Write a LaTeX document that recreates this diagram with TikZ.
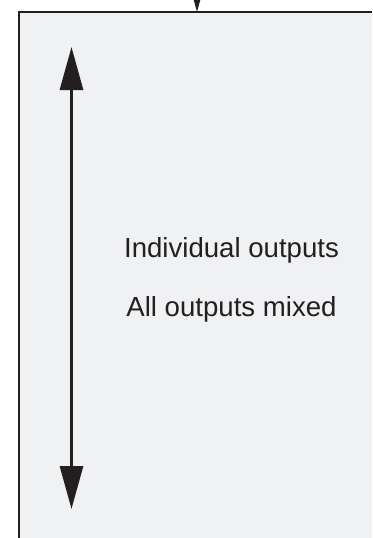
\documentclass[tikz,border=0pt]{standalone}
\usepackage{fontspec}
\setmainfont{Liberation Sans}
\usetikzlibrary{arrows.meta}
\definecolor{panelgray}{RGB}{240,241,243}
\definecolor{inkblack}{RGB}{35,31,32}
\tikzset{
  bigtip/.style={-{Triangle[length=21.5pt,width=11.5pt]}},
  bothtips/.style={{Triangle[length=21.5pt,width=11.5pt]}-{Triangle[length=21.5pt,width=11.5pt]}},
  panel text/.style={font=\fontsize{13.8}{16}\selectfont, text=inkblack, anchor=base, inner sep=0pt},
}
\begin{document}
\begin{tikzpicture}[x=0.5pt,y=0.5pt]
      \useasboundingbox (0,0) rectangle (372,538);
      \clip (0,0) rectangle (372,538);

      \coordinate (P1) at (19,-20);
      \coordinate (P2) at (400,526);
      \filldraw[fill=panelgray, draw=inkblack, line width=0.9pt] (P1) rectangle (P2);

      \coordinate (In) at (197,580);
      \coordinate (InTip) at (197,526);
      \draw[inkblack, line width=1.5pt, bigtip] (In) -- (InTip);

      \coordinate (Top) at (71.5,491);
      \coordinate (Bottom) at (71.5,29);
      \draw[inkblack, line width=1.5pt, bothtips] (Top) -- (Bottom);

      \node[panel text] (Indiv) at (231.5,281) {Individual outputs};
      \node[panel text] (Mixed) at (231.5,222) {All outputs mixed};
    \end{tikzpicture}
\end{document}
